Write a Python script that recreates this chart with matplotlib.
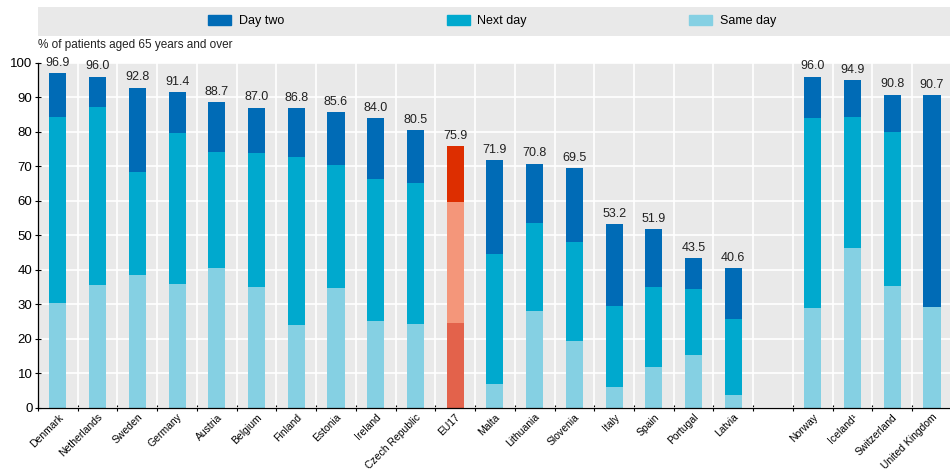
import numpy as np
import matplotlib
matplotlib.use("Agg")
from matplotlib import pyplot as plt
from matplotlib.patches import Patch, Rectangle

plt.rcParams['font.family'] = ['Liberation Sans', 'DejaVu Sans']

countries = ["Denmark", "Netherlands", "Sweden", "Germany", "Austria", "Belgium", "Finland",
             "Estonia", "Ireland", "Czech Republic", "EU17", "Malta", "Lithuania", "Slovenia",
             "Italy", "Spain", "Portugal", "Latvia", "Norway", "Iceland¹", "Switzerland",
             "United Kingdom"]
same_day = [30.5, 35.5, 38.6, 36.0, 40.6, 35.1, 24.0, 34.6, 25.2, 24.2, 24.5, 6.8, 28.2,
            19.5, 6.0, 11.8, 15.4, 3.7, 28.8, 46.2, 35.3, 29.1]
next_day = [53.7, 51.6, 29.7, 43.7, 33.6, 38.7, 48.6, 35.9, 41.1, 41.1, 35.2, 37.8, 25.3,
            28.5, 23.5, 23.2, 19.0, 21.9, 55.1, 38.2, 44.6, 0.0]
day_two = [12.7, 8.9, 24.5, 11.7, 14.5, 13.2, 14.2, 15.1, 17.7, 15.2, 16.2, 27.3, 17.3,
           21.5, 23.7, 16.9, 9.1, 15.0, 12.1, 10.5, 10.9, 61.6]
totals = [96.9, 96.0, 92.8, 91.4, 88.7, 87.0, 86.8, 85.6, 84.0, 80.5, 75.9, 71.9, 70.8,
          69.5, 53.2, 51.9, 43.5, 40.6, 96.0, 94.9, 90.8, 90.7]

C_TWO, C_NEXT, C_SAME = "#006BB6", "#00A9CE", "#85D0E3"
EU_TWO, EU_NEXT, EU_SAME = "#DD2E00", "#F4967A", "#E3624B"
GRAY = "#E9E9E9"

n = len(countries)
idx = np.arange(n)
pos = idx + (idx >= 18)          # one empty slot before the non-EU group
is_eu = np.array([c == "EU17" for c in countries])

fig = plt.figure(figsize=(9.5, 4.72), dpi=100)
ax = fig.add_axes([0.04, 0.136, 0.962, 0.731])
ax.set_facecolor(GRAY)

s = np.array(same_day)
nd = np.array(next_day)
d2 = np.array(day_two)
w = 0.43
ax.bar(pos, s, w, color=np.where(is_eu, EU_SAME, C_SAME), zorder=3)
ax.bar(pos, nd, w, bottom=s, color=np.where(is_eu, EU_NEXT, C_NEXT), zorder=3)
ax.bar(pos, d2, w, bottom=s + nd, color=np.where(is_eu, EU_TWO, C_TWO), zorder=3)

for x, t in zip(pos, totals):
    ax.text(x, t + 1.2, f"{t:.1f}", ha="center", va="bottom", fontsize=9, color="#222222",
            clip_on=False)

ax.set_xlim(-0.5, 22.5)
ax.set_ylim(0, 100)
ax.set_yticks(np.arange(0, 101, 10))
ax.set_xticks(pos)
ax.set_xticklabels(countries, rotation=45, ha="right", rotation_mode="anchor", fontsize=7.5)
ax.set_xticks(np.arange(-0.5, 23, 1), minor=True)
ax.tick_params(axis="x", which="major", length=0, pad=3)
ax.tick_params(axis="x", which="minor", length=4, direction="inout", width=0.8)
ax.tick_params(axis="y", labelsize=9.5, length=4, direction="inout", width=0.8, pad=2)
ax.grid(axis="y", color="white", linewidth=1.2, zorder=1)
ax.grid(axis="x", which="minor", color="white", linewidth=1.2, zorder=1)
for sp in ["top", "right"]:
    ax.spines[sp].set_visible(False)
for sp in ["left", "bottom"]:
    ax.spines[sp].set_linewidth(0.9)
    ax.spines[sp].set_zorder(4)

fig.text(0.04, 0.905, "% of patients aged 65 years and over", fontsize=8.5, color="#222222",
         va="center")

# legend band
fig.patches.append(Rectangle((0.04, 0.924), 0.96, 0.062, transform=fig.transFigure,
                             facecolor=GRAY, edgecolor="none", zorder=0))
handles = [Patch(color=C_TWO, label="Day two"), Patch(color=C_NEXT, label="Next day"),
           Patch(color=C_SAME, label="Same day")]
fig.legend(handles=handles, loc="center", bbox_to_anchor=(0.518, 0.955), ncol=3,
           frameon=False, fontsize=9, columnspacing=13.0, handlelength=1.85, handleheight=0.9,
           handletextpad=0.6)

fig.savefig("out.png", dpi=100)
